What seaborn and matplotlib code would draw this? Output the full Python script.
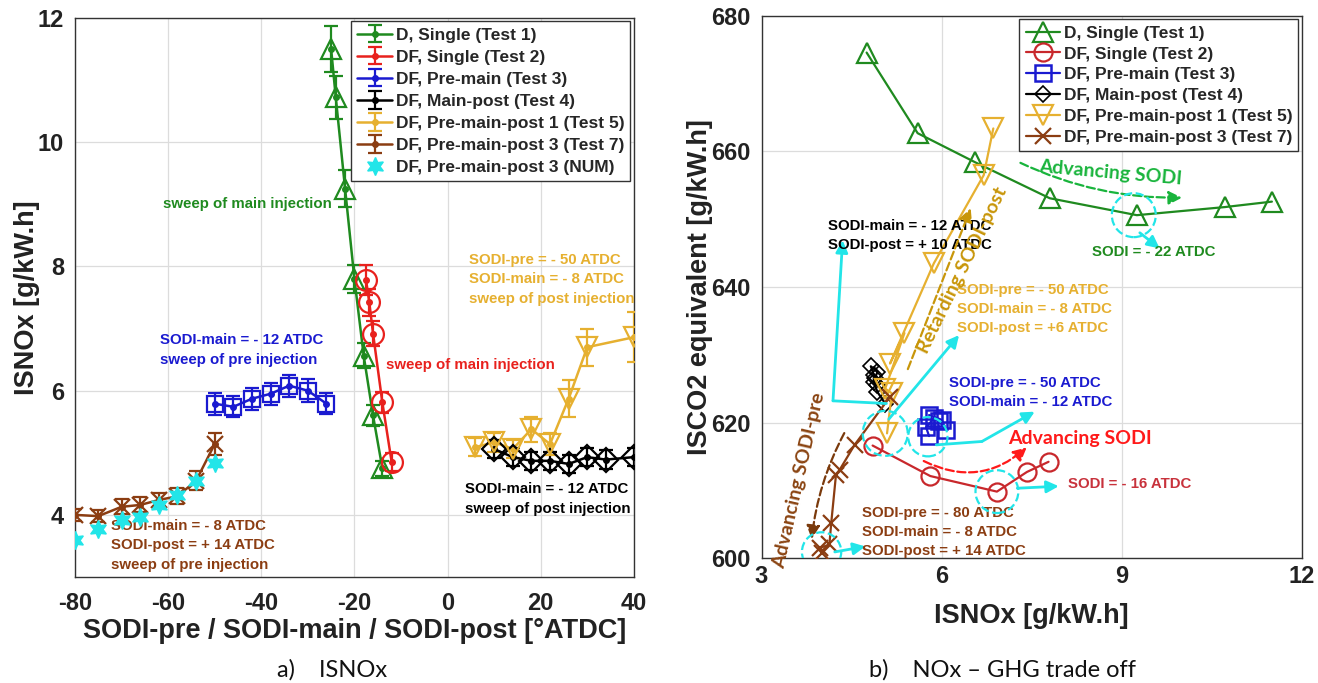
import numpy as np
import pandas as pd
import seaborn as sns
import matplotlib.pyplot as plt

# Test 1 - D, single injection (sweep of main)
sodi_t1 = [-25, -24, -22, -20, -18, -16, -14]
nox_t1 = [11.5, 10.72, 9.25, 7.8, 6.56, 5.6, 4.75]
err_t1 = [0.37, 0.35, 0.3, 0.23, 0.2, 0.17, 0.12]
co2_t1 = [652.6, 651.8, 650.6, 653.1, 658.4, 662.7, 674.6]

# Test 2 - DF, single injection
sodi_t2 = [-17.5, -16.8, -16, -14, -12]
nox_t2 = [7.78, 7.42, 6.92, 5.81, 4.85]
err_t2 = [0.24, 0.22, 0.2, 0.17, 0.14]
co2_t2 = [614.2, 612.7, 609.8, 612.1, 616.6]

# Test 3 - DF, pre-main (sweep of pre)
sodi_t3 = [-50, -46, -42, -38, -34, -30, -26]
nox_t3 = [5.79, 5.74, 5.87, 5.95, 6.08, 6.0, 5.79]
err_t3 = [0.18, 0.17, 0.18, 0.18, 0.18, 0.18, 0.17]
co2_t3 = [618.0, 619.3, 620.6, 620.2, 618.9, 620.4, 621.1]

# Test 4 - DF, main-post (sweep of post)
sodi_t4 = [10, 14, 18, 22, 26, 30, 34, 40]
nox_t4 = [5.06, 4.93, 4.87, 4.87, 4.82, 4.93, 4.89, 4.93]
err_t4 = [0.15, 0.15, 0.15, 0.15, 0.15, 0.15, 0.15, 0.15]
co2_t4 = [622.8, 624.5, 626.0, 627.0, 628.3, 627.5, 626.5, 625.5]

# Test 5 - DF, pre-main-post 1 (sweep of post)
sodi_t5 = [6, 10, 14, 18, 22, 26, 30, 40]
nox_t5 = [5.09, 5.17, 5.06, 5.38, 5.14, 5.87, 6.70, 6.86]
err_t5 = [0.15, 0.15, 0.15, 0.2, 0.18, 0.3, 0.3, 0.4]
co2_t5 = [618.4, 624.3, 625.0, 633.2, 628.7, 643.5, 656.5, 663.4]

# Test 7 - DF, pre-main-post 3 (sweep of pre) + numerical
sodi_t7 = [-80, -75, -70, -66, -62, -58, -54, -50]
nox_t7 = [4.0, 3.98, 4.13, 4.16, 4.24, 4.3, 4.55, 5.14]
err_t7 = [0.1, 0.1, 0.12, 0.12, 0.12, 0.13, 0.15, 0.18]
co2_t7 = [600.7, 601.5, 602.0, 605.1, 612.3, 613.0, 616.7, 623.8]
nox_num = [3.59, 3.78, 3.91, 3.96, 4.16, 4.32, 4.55, 4.83]

labels = ['D, Single (Test 1)', 'DF, Single (Test 2)', 'DF, Pre-main (Test 3)',
          'DF, Main-post (Test 4)', 'DF, Pre-main-post 1 (Test 5)',
          'DF, Pre-main-post 3 (Test 7)']
num_label = 'DF, Pre-main-post 3 (NUM)'

GREEN = '#1f8a1f'
RED = '#e8211d'
BLUE = '#1a1ad0'
BLACK = '#000000'
YELLOW = '#e6b030'
BROWN = '#8b3d12'
CYAN = '#22e5e8'

sns.set_theme(style='whitegrid')
plt.rcParams['font.family'] = ['Liberation Sans', 'DejaVu Sans']
plt.rcParams['font.weight'] = 'bold'
plt.rcParams['axes.unicode_minus'] = False

fig = plt.figure(figsize=(13.18, 6.83), dpi=100)
ax1 = fig.add_axes([0.0569, 0.1552, 0.424, 0.8185])
ax2 = fig.add_axes([0.5778, 0.183, 0.410, 0.7936])

for ax in (ax1, ax2):
    ax.set_facecolor('white')
    ax.grid(True, color='#dcdcdc', lw=0.9)
    for s in ax.spines.values():
        s.set_color('#333333')
        s.set_linewidth(1.0)
    ax.tick_params(direction='in', length=5, labelsize=17, colors='#222222', pad=8)
ax1.tick_params(axis='x', pad=11)
ax2.tick_params(axis='x', pad=5)

# ---------------- left panel ----------------
series = [
    (sodi_t1, nox_t1, err_t1, GREEN, '^', 15),
    (sodi_t2, nox_t2, err_t2, RED, 'o', 15),
    (sodi_t3, nox_t3, err_t3, BLUE, 's', 12),
    (sodi_t4, nox_t4, err_t4, BLACK, 'D', 12),
    (sodi_t5, nox_t5, err_t5, YELLOW, 'v', 15),
    (sodi_t7, nox_t7, err_t7, BROWN, 'x', 12),
]
handles = []
for (x, y, e, c, m, ms), lab in zip(series, labels):
    h = ax1.errorbar(x, y, yerr=e, fmt='.-', color=c, lw=1.8, elinewidth=1.6,
                     capsize=5, capthick=1.6, ms=8, label=lab, zorder=3)
    handles.append(h)
    ax1.plot(x, y, ls='none', marker=m, ms=ms, mfc='none', mec=c, mew=1.6, zorder=4)
hn, = ax1.plot(sodi_t7, nox_num, ls='none', marker=(6, 1, 0), ms=13, color=CYAN,
               mec=CYAN, label=num_label, zorder=5)
handles.append(hn)

ax1.set_xlim(-80, 40)
ax1.set_ylim(3, 12)
ax1.set_xticks([-80, -60, -40, -20, 0, 20, 40])
ax1.set_yticks([4, 6, 8, 10, 12])
ax1.set_xlabel('SODI-pre / SODI-main / SODI-post [°ATDC]', fontsize=19.5,
               fontweight='bold', color='#222222')
ax1.set_ylabel('ISNOx [g/kW.h]', fontsize=19.5, fontweight='bold', color='#222222')
ax1.xaxis.set_label_coords(0.5, -0.097, transform=ax1.transAxes)
ax1.yaxis.set_label_coords(-0.086, 0.5, transform=ax1.transAxes)
ax1.xaxis.label.set_va('center')
ax1.yaxis.label.set_va('center')
leg1 = ax1.legend(handles=handles, loc='upper right', fontsize=12.5, frameon=True,
                  fancybox=False, edgecolor='#333333', framealpha=1,
                  borderpad=0.35, labelspacing=0.4, handlelength=2.0,
                  handletextpad=0.2, borderaxespad=0.2)
leg1.get_frame().set_linewidth(1.0)

tk = dict(fontsize=10.8, fontweight='bold', va='center', ha='left')
ax1.text(-61, 9.0, 'sweep of main injection', color=GREEN, **tk)
ax1.text(4.5, 8.11, 'SODI-pre = - 50 ATDC', color=YELLOW, **tk)
ax1.text(4.5, 7.79, 'SODI-main = - 8 ATDC', color=YELLOW, **tk)
ax1.text(4.5, 7.48, 'sweep of post injection', color=YELLOW, **tk)
ax1.text(-61.7, 6.81, 'SODI-main = - 12 ATDC', color=BLUE, **tk)
ax1.text(-61.7, 6.49, 'sweep of pre injection', color=BLUE, **tk)
ax1.text(-13.3, 6.42, 'sweep of main injection', color=RED, **tk)
ax1.text(3.8, 4.41, 'SODI-main = - 12 ATDC', color=BLACK, **tk)
ax1.text(3.8, 4.09, 'sweep of post injection', color=BLACK, **tk)
ax1.text(-72.2, 3.82, 'SODI-main = - 8 ATDC', color=BROWN, **tk)
ax1.text(-72.2, 3.51, 'SODI-post = + 14 ATDC', color=BROWN, **tk)
ax1.text(-72.2, 3.2, 'sweep of pre injection', color=BROWN, **tk)

# ---------------- right panel ----------------
r_series = [
    (nox_t1, co2_t1, GREEN, '^', 15, 1.6),
    (nox_t2, co2_t2, '#c8282c', 'o', 13, 1.6),
    (nox_t3, co2_t3, BLUE, 's', 11, 1.8),
    (nox_t4, co2_t4, BLACK, 'D', 8, 1.2),
    (nox_t5, co2_t5, YELLOW, 'v', 15, 1.6),
    (nox_t7, co2_t7, BROWN, 'x', 12, 1.6),
]
r_handles = []
for (x, y, c, m, ms, mw), lab in zip(r_series, labels):
    df = pd.DataFrame({'nox': x, 'co2': y})
    sns.lineplot(data=df, x='nox', y='co2', sort=False, estimator=None, ax=ax2,
                 color=c, lw=1.6, marker=m, markersize=ms, markerfacecolor='none',
                 markeredgecolor=c, markeredgewidth=mw, zorder=3)
    r_handles.append(ax2.lines[-1])

ax2.set_xlim(3, 12)
ax2.set_ylim(600, 680)
ax2.set_xticks([3, 6, 9, 12])
ax2.set_yticks([600, 620, 640, 660, 680])
ax2.set_xlabel('ISNOx [g/kW.h]', fontsize=19.5, fontweight='bold', color='#222222')
ax2.set_ylabel('ISCO2 equivalent [g/kW.h]', fontsize=19.5, fontweight='bold',
               color='#222222')
ax2.xaxis.set_label_coords(0.5, -0.107, transform=ax2.transAxes)
ax2.yaxis.set_label_coords(-0.114, 0.5, transform=ax2.transAxes)
ax2.xaxis.label.set_va('center')
ax2.yaxis.label.set_va('center')
leg2 = ax2.legend(r_handles, labels, loc='upper right', fontsize=12.5, frameon=True,
                  fancybox=False, edgecolor='#333333', framealpha=1,
                  borderpad=0.35, labelspacing=0.33, handlelength=2.0,
                  handletextpad=0.2, borderaxespad=0.2)
leg2.get_frame().set_linewidth(1.0)

# cyan highlight circles
ax2.scatter([9.2, 5.06, 5.77, 6.92, 4.0], [650.6, 618.4, 617.9, 609.8, 600.9],
            s=[1000, 1050, 800, 950, 800], facecolors='none', edgecolors=CYAN,
            linestyles='--', linewidths=1.6, zorder=5)

cy = dict(arrowstyle='-|>', color=CYAN, lw=2, mutation_scale=18, shrinkA=0, shrinkB=0)
ax2.annotate('', xy=(9.63, 645.7), xytext=(9.3, 648.0), arrowprops=cy)
ax2.annotate('', xy=(7.95, 610.6), xytext=(7.26, 610.3), arrowprops=cy)
ax2.annotate('', xy=(4.73, 601.7), xytext=(4.22, 600.9), arrowprops=cy)
ax2.annotate('', xy=(6.29, 632.9), xytext=(5.12, 620.5), arrowprops=cy)
ax2.plot([5.91, 6.67], [616.7, 617.2], color=CYAN, lw=2, zorder=4)
ax2.annotate('', xy=(7.55, 621.6), xytext=(6.67, 617.2), arrowprops=cy)
ax2.plot([5.08, 4.19], [622.8, 623.2], color=CYAN, lw=2, zorder=4)
ax2.annotate('', xy=(4.35, 646.9), xytext=(4.19, 623.2), arrowprops=cy)

rk = dict(fontsize=10.8, fontweight='bold', va='center', ha='left')
ax2.text(8.5, 645.2, 'SODI = - 22 ATDC', color=GREEN, **rk)
ax2.text(8.1, 610.9, 'SODI = - 16 ATDC', color='#c8323c', **rk)
ax2.text(4.1, 649.0, 'SODI-main = - 12 ATDC', color=BLACK, **rk)
ax2.text(4.1, 646.2, 'SODI-post = + 10 ATDC', color=BLACK, **rk)
ax2.text(6.25, 639.6, 'SODI-pre = - 50 ATDC', color=YELLOW, **rk)
ax2.text(6.25, 636.8, 'SODI-main = - 8 ATDC', color=YELLOW, **rk)
ax2.text(6.25, 634.0, 'SODI-post = +6 ATDC', color=YELLOW, **rk)
ax2.text(6.12, 625.8, 'SODI-pre = - 50 ATDC', color=BLUE, **rk)
ax2.text(6.12, 623.0, 'SODI-main = - 12 ATDC', color=BLUE, **rk)
ax2.text(4.68, 606.7, 'SODI-pre = - 80 ATDC', color=BROWN, **rk)
ax2.text(4.68, 603.9, 'SODI-main = - 8 ATDC', color=BROWN, **rk)
ax2.text(4.68, 601.1, 'SODI-post = + 14 ATDC', color=BROWN, **rk)

# dashed trend arrows
ax2.annotate('', xy=(10.05, 653.2), xytext=(7.27, 658.5),
             arrowprops=dict(arrowstyle='-|>', color='#19b43c', lw=1.6, ls='--',
                             mutation_scale=20, connectionstyle='arc3,rad=0.12'))
ax2.text(7.6, 656.8, 'Advancing SODI', color='#19b43c', fontsize=14,
         fontweight='bold', family=['Lato', 'DejaVu Sans'], rotation=-5,
         va='center', ha='left')
ax2.annotate('', xy=(7.45, 616.6), xytext=(5.66, 614.5),
             arrowprops=dict(arrowstyle='-|>', color='#ff1a1a', lw=1.6, ls='--',
                             mutation_scale=20, connectionstyle='arc3,rad=0.35'))
ax2.text(7.1, 617.6, 'Advancing SODI', color='#ff1a1a', fontsize=14,
         fontweight='bold', family=['Lato', 'DejaVu Sans'], va='center', ha='left')
ax2.annotate('', xy=(6.5, 652.0), xytext=(5.42, 627.5),
             arrowprops=dict(arrowstyle='-|>', color='#c8960a', lw=1.6, ls='--',
                             mutation_scale=20))
ax2.text(6.35, 642.5, 'Retarding SODI-post', color='#c8960a', fontsize=14,
         fontweight='bold', family=['Lato', 'DejaVu Sans'], rotation=64,
         va='center', ha='center')
ax2.annotate('', xy=(3.83, 602.4), xytext=(4.4, 618.8),
             arrowprops=dict(arrowstyle='-|>', color='#7a3a0c', lw=1.6, ls='--',
                             mutation_scale=20, connectionstyle='arc3,rad=0.1'))
ax2.text(3.62, 611.5, 'Advancing SODI-pre', color='#8b4513', fontsize=14,
         fontweight='bold', family=['Lato', 'DejaVu Sans'], rotation=77,
         va='center', ha='center')

# panel captions
fig.text(0.252, 0.019, 'a)    ISNOx', fontsize=17, fontweight='normal',
         family=['Lato', 'DejaVu Sans'], ha='center', va='center', color='#111111')
fig.text(0.761, 0.019, 'b)    NOx \u2013 GHG trade off', fontsize=17,
         fontweight='normal', family=['Lato', 'DejaVu Sans'], ha='center',
         va='center', color='#111111')

fig.savefig('out.png', dpi=100, facecolor='white')
